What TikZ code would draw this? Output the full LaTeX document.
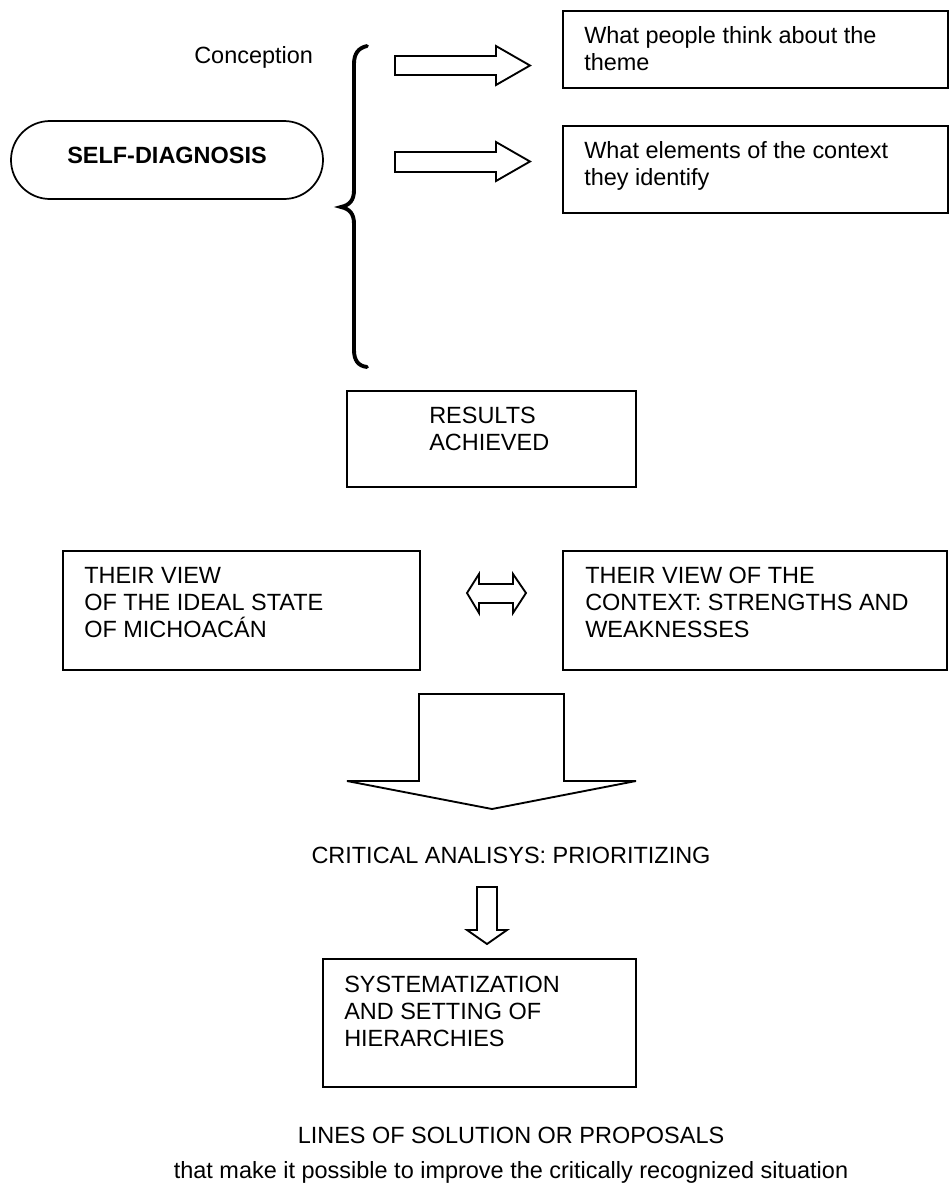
\documentclass[tikz,border=0pt]{standalone}
\usepackage{fontspec}
\setmainfont{Liberation Sans}
\usetikzlibrary{fit}
\newcommand{\ml}[1]{\begin{tabular}[t]{@{}l@{}}#1\end{tabular}}
\begin{document}
\begin{tikzpicture}[x=0.75pt,y=-0.75pt,
  frame/.style={draw, line width=1.5pt, inner sep=0pt},
  txt/.style={inner sep=0pt, font=\fontsize{17.6pt}{20.6pt}\selectfont},
  blockarrow/.style={draw, line width=1.4pt, line join=miter},
  bracestyle/.style={line width=2.9pt, line cap=round}]
\useasboundingbox (0,0) rectangle (951,1190);
\fill[white] (0,0) rectangle (951,1190);

% top-left
\node[txt, anchor=base west] (conc) at (194,63) {Conception};
\node[frame, line width=1.3pt, rounded corners=29.25pt, fit={(11,121) (323,199)}] (self) {};
\node[txt, anchor=base, font=\fontsize{17.6pt}{20.6pt}\selectfont\bfseries] (selft) at (167,163) {SELF-DIAGNOSIS};

% brace
\draw[bracestyle] (367,46) .. controls (358,48) and (354,54) .. (354,64)
  -- (354,190) .. controls (354,200) and (350,205) .. (341,207)
  .. controls (350,209) and (354,214) .. (354,224)
  -- (354,350) .. controls (354,360) and (358,366) .. (367,367);

% right boxes
\node[frame, fit={(563,11) (948,88)}] (b1) {};
\node[txt, anchor=base west] (t1) at (584,43) {\ml{What people think about the\\theme}};
\node[frame, fit={(563,126) (948,213)}] (b2) {};
\node[txt, anchor=base west] (t2) at (584,158) {\ml{What elements of the context\\they identify}};

% block arrows to boxes
\draw[blockarrow] (395,56) -- (496,56) -- (496,46) -- (530,65.5) -- (496,85) -- (496,75) -- (395,75) -- cycle;
\draw[blockarrow] (395,152) -- (496,152) -- (496,142) -- (530,161.5) -- (496,181) -- (496,172) -- (395,172) -- cycle;

% results
\node[frame, fit={(347,391) (636,487)}] (res) {};
\node[txt, anchor=base west] (rest) at (429,423) {\ml{RESULTS\\ACHIEVED}};

% views
\node[frame, fit={(63,551) (420,670)}] (v1) {};
\node[txt, anchor=base west] (v1t) at (84,583) {\ml{THEIR VIEW\\OF THE IDEAL STATE\\OF MICHOAC\smash{Á}N}};
\node[frame, fit={(563,551) (947,670)}] (v2) {};
\node[txt, anchor=base west] (v2t) at (585,583) {\ml{THEIR VIEW OF THE\\CONTEXT: STRENGTHS AND\\WEAKNESSES}};

% double arrow
\draw[blockarrow] (467,593) -- (479,574) -- (479,584) -- (513,584) -- (513,574) -- (526,593)
  -- (513,613) -- (513,603) -- (479,603) -- (479,613) -- cycle;

% big down arrow
\draw[blockarrow] (419,694) -- (564,694) -- (564,781) -- (636,781) -- (492,809) -- (347,781) -- (419,781) -- cycle;

\node[txt, anchor=base] (crit) at (511,863) {CRITICAL ANALISYS: PRIORITIZING};

% small down arrow
\draw[blockarrow] (477,887) -- (497,887) -- (497,930) -- (507,930) -- (487,944) -- (467,930) -- (477,930) -- cycle;

% systematization
\node[frame, fit={(323,959) (636,1087)}] (sys) {};
\node[txt, anchor=base west] (syst) at (344,992) {\ml{SYSTEMATIZATION\\AND SETTING OF\\HIERARCHIES}};

\node[txt, anchor=base] (lines) at (511,1143) {LINES OF SOLUTION OR PROPOSALS};
\node[txt, anchor=base] (last) at (511,1178) {that make it possible to improve the critically recognized situation};
\end{tikzpicture}
\end{document}
